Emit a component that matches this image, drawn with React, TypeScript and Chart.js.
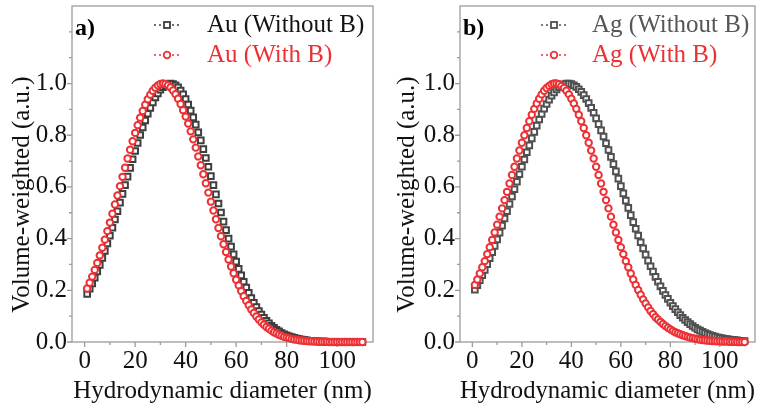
import React, { useEffect, useRef } from "react";
import { Chart, registerables } from "chart.js";

Chart.register(...registerables);

// ---------- data ----------
const diameters = [
  1, 2, 3, 4, 5, 6, 7, 8, 9, 10, 11, 12, 13, 14, 15, 16, 17, 18, 19, 20,
  21, 22, 23, 24, 25, 26, 27, 28, 29, 30, 31, 32, 33, 34, 35, 36, 37, 38, 39, 40,
  41, 42, 43, 44, 45, 46, 47, 48, 49, 50, 51, 52, 53, 54, 55, 56, 57, 58, 59, 60,
  61, 62, 63, 64, 65, 66, 67, 68, 69, 70, 71, 72, 73, 74, 75, 76, 77, 78, 79, 80,
  81, 82, 83, 84, 85, 86, 87, 88, 89, 90, 91, 92, 93, 94, 95, 96, 97, 98, 99, 100,
  101, 102, 103, 104, 105, 106, 107, 108, 109, 110,
];

const auWithoutB = [
  0.186, 0.206, 0.227, 0.249, 0.273, 0.298, 0.325, 0.352, 0.381, 0.411,
  0.442, 0.474, 0.506, 0.539, 0.573, 0.607, 0.640, 0.674, 0.707, 0.739,
  0.770, 0.801, 0.830, 0.857, 0.883, 0.906, 0.927, 0.946, 0.962, 0.976,
  0.986, 0.994, 0.999, 1.000, 0.998, 0.993, 0.985, 0.973, 0.958, 0.940,
  0.919, 0.895, 0.869, 0.841, 0.811, 0.780, 0.746, 0.712, 0.678, 0.642,
  0.607, 0.571, 0.536, 0.501, 0.466, 0.433, 0.400, 0.369, 0.339, 0.311,
  0.283, 0.258, 0.233, 0.211, 0.190, 0.170, 0.152, 0.135, 0.120, 0.106,
  0.094, 0.082, 0.072, 0.063, 0.055, 0.047, 0.041, 0.035, 0.030, 0.026,
  0.022, 0.019, 0.016, 0.013, 0.011, 0.009, 0.008, 0.006, 0.005, 0.004,
  0.004, 0.003, 0.002, 0.002, 0.002, 0.001, 0.001, 0.001, 0.001, 0.001,
  0.000, 0.000, 0.000, 0.000, 0.000, 0.000, 0.000, 0.000, 0.000, 0.000,
];

const auWithB = [
  0.207, 0.229, 0.253, 0.279, 0.306, 0.335, 0.365, 0.396, 0.429, 0.462,
  0.496, 0.532, 0.567, 0.603, 0.639, 0.674, 0.710, 0.744, 0.777, 0.809,
  0.839, 0.868, 0.894, 0.918, 0.939, 0.957, 0.972, 0.984, 0.993, 0.998,
  1.000, 0.998, 0.993, 0.985, 0.973, 0.959, 0.941, 0.921, 0.897, 0.872,
  0.845, 0.815, 0.784, 0.752, 0.718, 0.684, 0.649, 0.614, 0.578, 0.543,
  0.509, 0.475, 0.441, 0.409, 0.378, 0.348, 0.319, 0.292, 0.266, 0.241,
  0.219, 0.197, 0.177, 0.159, 0.142, 0.126, 0.112, 0.099, 0.087, 0.076,
  0.067, 0.058, 0.051, 0.044, 0.038, 0.033, 0.028, 0.024, 0.020, 0.017,
  0.015, 0.012, 0.010, 0.009, 0.007, 0.006, 0.005, 0.004, 0.003, 0.003,
  0.002, 0.002, 0.001, 0.001, 0.001, 0.001, 0.000, 0.000, 0.000, 0.000,
  0.000, 0.000, 0.000, 0.000, 0.000, 0.000, 0.000, 0.000, 0.000, 0.000,
];

const agWithoutB = [
  0.202, 0.220, 0.239, 0.259, 0.279, 0.301, 0.324, 0.348, 0.372, 0.397,
  0.423, 0.450, 0.478, 0.506, 0.534, 0.563, 0.591, 0.620, 0.649, 0.678,
  0.706, 0.734, 0.761, 0.788, 0.813, 0.837, 0.861, 0.882, 0.903, 0.921,
  0.938, 0.953, 0.966, 0.977, 0.986, 0.993, 0.997, 1.000, 1.000, 0.998,
  0.993, 0.987, 0.978, 0.968, 0.955, 0.940, 0.924, 0.906, 0.887, 0.865,
  0.843, 0.819, 0.795, 0.769, 0.743, 0.716, 0.688, 0.660, 0.632, 0.603,
  0.575, 0.547, 0.519, 0.491, 0.464, 0.438, 0.412, 0.386, 0.362, 0.338,
  0.315, 0.293, 0.272, 0.252, 0.233, 0.215, 0.198, 0.182, 0.167, 0.152,
  0.139, 0.127, 0.115, 0.104, 0.094, 0.085, 0.077, 0.069, 0.062, 0.055,
  0.049, 0.044, 0.039, 0.035, 0.031, 0.027, 0.024, 0.021, 0.018, 0.016,
  0.014, 0.012, 0.011, 0.009, 0.008, 0.007, 0.006, 0.005, 0.004, 0.004,
];

const agWithB = [
  0.221, 0.242, 0.265, 0.289, 0.313, 0.340, 0.367, 0.395, 0.424, 0.454,
  0.485, 0.517, 0.549, 0.581, 0.613, 0.646, 0.678, 0.710, 0.741, 0.771,
  0.800, 0.828, 0.854, 0.879, 0.902, 0.923, 0.941, 0.958, 0.972, 0.983,
  0.991, 0.997, 1.000, 1.000, 0.997, 0.991, 0.983, 0.972, 0.958, 0.941,
  0.923, 0.902, 0.879, 0.854, 0.828, 0.800, 0.771, 0.741, 0.710, 0.678,
  0.646, 0.613, 0.581, 0.549, 0.517, 0.485, 0.454, 0.424, 0.395, 0.367,
  0.340, 0.313, 0.289, 0.265, 0.242, 0.221, 0.201, 0.183, 0.165, 0.149,
  0.134, 0.120, 0.108, 0.096, 0.087, 0.078, 0.070, 0.062, 0.055, 0.049,
  0.043, 0.038, 0.034, 0.030, 0.026, 0.023, 0.020, 0.017, 0.015, 0.013,
  0.011, 0.009, 0.008, 0.007, 0.006, 0.005, 0.004, 0.004, 0.003, 0.003,
  0.002, 0.002, 0.002, 0.001, 0.001, 0.001, 0.000, 0.000, 0.000, 0.000,
];

const xTicks = [0, 10, 20, 30, 40, 50, 60, 70, 80, 90, 100, 110];
const xLabelled = [0, 20, 40, 60, 80, 100];
const yTicks = [0, 0.1, 0.2, 0.3, 0.4, 0.5, 0.6, 0.7, 0.8, 0.9, 1.0, 1.1, 1.2];
const yLabelled = [0, 0.2, 0.4, 0.6, 0.8, 1.0];

const xTitle = "Hydrodynamic diameter (nm)";
const yTitle = "Volume-weighted (a.u.)";

// ---------- styles ----------
const FONT = "'Liberation Serif', 'Times New Roman', serif";
const RED = "#ec3034";
const DARK = "#3e3e3e";
const FRAME = "#9c9c9c";

type LegendItem = { text: string; color: string; marker: "rect" | "circle"; markerColor: string };
type PanelCfg = {
  left: number;
  width: number;
  padRight: number;
  label: string;
  titleX: number;
  symX: number;
  textX: number;
  legend: LegendItem[];
  withoutB: number[];
  withB: number[];
};

const panels: PanelCfg[] = [
  {
    left: 0,
    width: 380,
    padRight: 7,
    label: "a)",
    titleX: 22,
    symX: 82,
    textX: 135,
    legend: [
      { text: "Au (Without B)", color: "#141414", marker: "rect", markerColor: DARK },
      { text: "Au (With B)", color: RED, marker: "circle", markerColor: RED },
    ],
    withoutB: auWithoutB,
    withB: auWithB,
  },
  {
    left: 388,
    width: 373,
    padRight: 2,
    label: "b)",
    titleX: 19.5,
    symX: 81,
    textX: 132,
    legend: [
      { text: "Ag (Without B)", color: "#565656", marker: "rect", markerColor: "#505050" },
      { text: "Ag (With B)", color: RED, marker: "circle", markerColor: RED },
    ],
    withoutB: agWithoutB,
    withB: agWithB,
  },
];

function near(list: number[], v: number) {
  return list.some((l) => Math.abs(l - v) < 1e-6);
}

function makeDecor(cfg: PanelCfg) {
  return {
    id: "decor",
    beforeDatasetsDraw(chart: any) {
      const { ctx, chartArea: a, scales } = chart;
      ctx.save();
      ctx.strokeStyle = FRAME;
      ctx.lineWidth = 1.3;
      ctx.strokeRect(a.left, a.top, a.right - a.left, a.bottom - a.top);
      ctx.beginPath();
      for (const v of xTicks) {
        const px = scales.x.getPixelForValue(v);
        const len = near(xLabelled, v) ? 5 : 3;
        ctx.moveTo(px, a.bottom);
        ctx.lineTo(px, a.bottom + len);
      }
      for (const v of yTicks) {
        const py = scales.y.getPixelForValue(v);
        const len = near(yLabelled, v) ? 5 : 3;
        ctx.moveTo(a.left, py);
        ctx.lineTo(a.left - len, py);
      }
      ctx.stroke();
      ctx.restore();
    },
    afterDraw(chart: any) {
      const { ctx, chartArea: a } = chart;
      ctx.save();
      // y title
      ctx.translate(cfg.titleX, 194.5);
      ctx.rotate(-Math.PI / 2);
      ctx.font = `25px ${FONT}`;
      ctx.fillStyle = "#111";
      ctx.textAlign = "center";
      ctx.textBaseline = "middle";
      ctx.fillText(yTitle, 0, 0);
      ctx.restore();

      ctx.save();
      // panel label
      ctx.font = `bold 24px ${FONT}`;
      ctx.fillStyle = "#000";
      ctx.textAlign = "left";
      ctx.textBaseline = "middle";
      ctx.fillText(cfg.label, a.left + 3, a.top + 23);

      // legend
      const rows = [19, 49];
      cfg.legend.forEach((item, i) => {
        const y = a.top + rows[i];
        const x0 = a.left + cfg.symX;
        const x1 = x0 + 26;
        const cx = (x0 + x1) / 2;
        ctx.strokeStyle = item.markerColor;
        ctx.lineWidth = 1.5;
        ctx.setLineDash([2, 3]);
        ctx.beginPath();
        ctx.moveTo(x0, y);
        ctx.lineTo(cx - 5, y);
        ctx.moveTo(cx + 5, y);
        ctx.lineTo(x1, y);
        ctx.stroke();
        ctx.setLineDash([]);
        ctx.fillStyle = "#fff";
        ctx.lineWidth = 1.8;
        if (item.marker === "rect") {
          ctx.fillRect(cx - 3, y - 3, 6, 6);
          ctx.strokeRect(cx - 3, y - 3, 6, 6);
        } else {
          ctx.beginPath();
          ctx.arc(cx, y, 3.3, 0, Math.PI * 2);
          ctx.fill();
          ctx.stroke();
        }
        ctx.font = `25px ${FONT}`;
        ctx.fillStyle = item.color;
        ctx.textAlign = "left";
        ctx.textBaseline = "middle";
        ctx.fillText(item.text, a.left + cfg.textX, y);
      });
      ctx.restore();
    },
  };
}

function Panel({ cfg }: { cfg: PanelCfg }) {
  const ref = useRef<HTMLCanvasElement>(null);
  useEffect(() => {
    const canvas = ref.current!;
    const chart = new Chart(canvas, {
      type: "scatter",
      data: {
        datasets: [
          {
            label: cfg.legend[1].text,
            data: diameters.map((d, i) => ({ x: d, y: cfg.withB[i] })),
            pointStyle: "circle",
            pointRadius: 3.2,
            pointBorderWidth: 2,
            pointBackgroundColor: "#ffffff",
            pointBorderColor: RED,
            showLine: false,
            clip: false as any,
            order: 0,
          },
          {
            label: cfg.legend[0].text,
            data: diameters.map((d, i) => ({ x: d, y: cfg.withoutB[i] })),
            pointStyle: "rect",
            pointRadius: 4,
            pointBorderWidth: 2,
            pointBackgroundColor: "#ffffff",
            pointBorderColor: cfg.legend[0].markerColor,
            showLine: false,
            clip: false as any,
            order: 1,
          },
        ],
      },
      options: {
        animation: false,
        responsive: false,
        events: [],
        layout: { padding: { left: 0, right: cfg.padRight, top: 4, bottom: 0 } },
        plugins: { legend: { display: false }, tooltip: { enabled: false } },
        scales: {
          x: {
            type: "linear",
            min: -5,
            max: 114.2,
            grid: { display: false, drawTicks: false },
            border: { display: false },
            afterBuildTicks: (scale: any) => {
              scale.ticks = xTicks.map((v) => ({ value: v }));
            },
            afterFit: (scale: any) => {
              scale.height = 66;
              scale.paddingLeft = 0;
              scale.paddingRight = 0;
            },
            ticks: {
              autoSkip: false,
              maxRotation: 0,
              padding: 4,
              color: "#111",
              font: { family: FONT, size: 25 },
              callback: (v: any) => (near(xLabelled, Number(v)) ? String(v) : ""),
            },
            title: {
              display: true,
              text: xTitle,
              color: "#111",
              font: { family: FONT, size: 25 },
              padding: { top: 0, bottom: 2 },
            },
          },
          y: {
            type: "linear",
            min: 0,
            max: 1.3,
            grid: { display: false, drawTicks: false },
            border: { display: false },
            afterBuildTicks: (scale: any) => {
              scale.ticks = yTicks.map((v) => ({ value: v }));
            },
            afterFit: (scale: any) => {
              scale.width = 72;
              scale.paddingTop = 0;
              scale.paddingBottom = 0;
            },
            ticks: {
              autoSkip: false,
              padding: 5,
              color: "#111",
              font: { family: FONT, size: 25 },
              callback: (v: any) => (near(yLabelled, Number(v)) ? Number(v).toFixed(1) : ""),
            },
            title: { display: false },
          },
        },
      },
      plugins: [makeDecor(cfg)],
    });
    return () => chart.destroy();
  }, [cfg]);
  return (
    <div style={{ position: "absolute", left: cfg.left, top: 0, width: cfg.width, height: 408 }}>
      <canvas ref={ref} width={cfg.width} height={408} style={{ width: cfg.width, height: 408, display: "block" }} />
    </div>
  );
}

export default function App() {
  return (
    <div
      style={{
        position: "absolute",
        left: 0,
        top: 0,
        width: 761,
        height: 408,
        overflow: "hidden",
        background: "#fff",
      }}
    >
      {panels.map((p) => (
        <Panel key={p.label} cfg={p} />
      ))}
    </div>
  );
}
